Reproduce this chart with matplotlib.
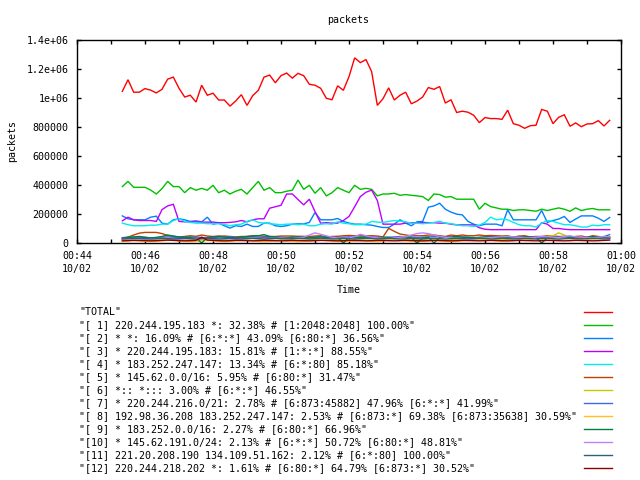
import datetime as dt
import matplotlib
matplotlib.use("Agg")
import matplotlib.pyplot as plt
import matplotlib.dates as mdates
from matplotlib.lines import Line2D
from matplotlib.ticker import FixedLocator, FixedFormatter

# ---------------- data (values in thousands of packets) ----------------
start_time = dt.datetime(2010, 10, 2, 0, 45, 20)
step_seconds = 10

total = [1046, 1126, 1040, 1040, 1065, 1054, 1035, 1060, 1130, 1144,
         1067, 1007, 1019, 972, 1088, 1019, 1033, 986, 986, 944,
         979, 1023, 949, 1016, 1053, 1144, 1158, 1105, 1154, 1172,
         1137, 1170, 1154, 1095, 1088, 1067, 998, 988, 1084, 1053,
         1147, 1277, 1244, 1265, 1181, 949, 995, 1070, 986, 1019,
         1040, 960, 979, 1007, 1072, 1060, 1079, 965, 988, 900,
         909, 902, 881, 830, 865, 858, 858, 853, 916, 823,
         812, 791, 809, 812, 921, 909, 823, 867, 884, 805,
         828, 802, 821, 823, 844, 807, 846]

s1 = [389, 425, 384, 384, 384, 365, 338, 375, 425, 389,
      389, 347, 382, 364, 377, 364, 398, 347, 364, 338,
      357, 370, 338, 382, 425, 364, 382, 347, 347, 357,
      364, 434, 370, 398, 343, 382, 325, 347, 382, 364,
      347, 398, 370, 377, 370, 325, 338, 338, 343, 329,
      334, 329, 325, 320, 293, 338, 334, 316, 320, 302,
      302, 302, 302, 233, 274, 251, 242, 233, 233, 224,
      229, 229, 224, 219, 233, 224, 233, 242, 233, 219,
      242, 224, 233, 238, 229, 229, 229]

s2 = [187, 167, 160, 160, 160, 178, 185, 137, 130, 160,
      167, 160, 149, 153, 146, 178, 130, 137, 119, 103,
      119, 114, 130, 114, 114, 137, 137, 119, 114, 119,
      130, 132, 132, 142, 210, 160, 160, 160, 169, 149,
      137, 130, 130, 126, 123, 114, 107, 107, 130, 160,
      137, 119, 146, 149, 247, 256, 274, 233, 213, 199,
      194, 149, 130, 119, 130, 130, 130, 119, 229, 160,
      160, 160, 160, 160, 224, 142, 155, 165, 183, 142,
      165, 187, 187, 187, 171, 149, 176]

s3 = [153, 178, 160, 155, 155, 155, 149, 230, 256, 267,
      149, 146, 146, 146, 144, 144, 144, 140, 140, 142,
      146, 155, 146, 160, 167, 167, 240, 250, 260, 338,
      338, 300, 263, 302, 217, 137, 140, 137, 137, 155,
      183, 250, 320, 350, 365, 293, 130, 130, 130, 130,
      137, 140, 140, 142, 140, 140, 137, 137, 130, 125,
      125, 125, 125, 105, 95, 92, 92, 92, 92, 92,
      92, 92, 92, 92, 140, 130, 100, 100, 95, 92,
      92, 92, 92, 92, 92, 92, 92]

s4 = [137, 126, 119, 119, 119, 123, 123, 130, 130, 155,
      167, 149, 142, 137, 137, 133, 133, 133, 128, 119,
      126, 130, 149, 160, 142, 137, 133, 130, 126, 130,
      130, 126, 130, 119, 119, 130, 133, 130, 146, 137,
      133, 126, 126, 130, 149, 144, 142, 149, 155, 151,
      146, 137, 137, 133, 137, 142, 149, 137, 133, 126,
      119, 119, 114, 123, 142, 178, 160, 165, 160, 142,
      126, 119, 119, 110, 137, 155, 149, 137, 126, 126,
      119, 110, 110, 123, 119, 126, 126]

s5 = [37, 40, 55, 68, 73, 73, 73, 65, 52, 45,
      42, 45, 50, 46, 55, 48, 45, 48, 48, 45,
      42, 45, 45, 50, 50, 46, 45, 45, 48, 48,
      48, 46, 46, 45, 48, 50, 42, 45, 46, 50,
      52, 50, 50, 50, 50, 48, 42, 101, 80, 62,
      55, 50, 50, 50, 55, 55, 50, 45, 55, 50,
      55, 50, 50, 55, 50, 52, 50, 48, 50, 40,
      48, 50, 42, 45, 45, 50, 48, 45, 45, 40,
      45, 48, 40, 50, 45, 40, 42]

s6 = [22, 20, 18, 20, 22, 20, 18, 20, 22, 20,
      18, 20, 22, 25, 20, 18, 20, 22, 20, 18,
      20, 22, 20, 18, 20, 22, 20, 18, 20, 22,
      20, 18, 20, 22, 25, 20, 18, 20, 22, 20,
      18, 20, 22, 20, 18, 20, 22, 25, 28, 25,
      22, 20, 22, 25, 28, 25, 22, 20, 22, 25,
      28, 25, 22, 20, 25, 28, 25, 22, 25, 28,
      30, 28, 30, 35, 40, 45, 50, 70, 55, 40,
      35, 30, 32, 35, 38, 35, 32]

s7 = [35, 38, 40, 40, 38, 36, 38, 40, 42, 40,
      38, 40, 42, 40, 38, 36, 38, 40, 42, 44,
      40, 38, 40, 42, 40, 38, 40, 42, 40, 38,
      40, 42, 40, 38, 40, 42, 44, 40, 38, 40,
      42, 40, 38, 40, 42, 40, 38, 40, 42, 45,
      42, 40, 38, 40, 42, 44, 42, 40, 38, 40,
      42, 40, 38, 36, 38, 40, 42, 40, 38, 36,
      38, 40, 42, 40, 38, 36, 38, 40, 42, 40,
      38, 36, 38, 40, 42, 44, 58]

s8 = [12, 15, 18, 15, 12, 10, 12, 15, 18, 20,
      15, 12, 10, 12, 15, 18, 15, 12, 10, 12,
      15, 18, 20, 15, 12, 10, 12, 15, 18, 15,
      12, 10, 12, 15, 18, 20, 18, 15, 12, 10,
      12, 15, 18, 15, 12, 10, 15, 20, 25, 20,
      15, 12, 10, 12, 15, 18, 15, 12, 10, 12,
      15, 18, 20, 22, 20, 18, 15, 12, 15, 18,
      20, 22, 25, 28, 25, 22, 20, 25, 30, 28,
      25, 22, 20, 25, 28, 30, 35]

s9 = [30, 40, 42, 45, 40, 35, 38, 45, 55, 48,
      42, 40, 38, 35, 0, 38, 42, 45, 40, 38,
      35, 40, 45, 48, 50, 58, 45, 40, 38, 35,
      40, 42, 38, 35, 40, 42, 38, 35, 40, 0,
      38, 35, 40, 42, 38, 35, 40, 38, 35, 40,
      42, 38, 0, 35, 40, 0, 38, 40, 42, 45,
      40, 38, 35, 40, 42, 45, 40, 38, 35, 40,
      42, 45, 40, 38, 0, 35, 40, 42, 45, 40,
      38, 35, 40, 45, 42, 40, 38]

s10 = [25, 28, 30, 28, 25, 28, 30, 32, 30, 28,
       25, 28, 30, 32, 30, 28, 25, 28, 30, 28,
       25, 28, 30, 32, 30, 28, 30, 32, 35, 32,
       30, 35, 40, 55, 70, 60, 50, 40, 35, 32,
       35, 45, 60, 50, 40, 35, 32, 30, 35, 40,
       45, 55, 65, 70, 65, 55, 45, 40, 35, 32,
       30, 28, 30, 32, 35, 38, 40, 42, 45, 42,
       40, 38, 35, 40, 45, 42, 40, 38, 45, 50,
       42, 40, 38, 35, 40, 45, 42]

s11 = [28, 30, 31, 32, 30, 28, 29, 32, 31, 28,
       30, 33, 30, 27, 30, 32, 31, 28, 29, 32,
       30, 28, 31, 33, 30, 27, 30, 32, 30, 29,
       30, 32, 31, 28, 30, 33, 30, 28, 29, 32,
       30, 27, 30, 32, 31, 28, 30, 33, 30, 28,
       29, 32, 30, 28, 31, 33, 30, 27, 30, 32,
       30, 29, 30, 32, 31, 28, 30, 33, 30, 28,
       29, 32, 30, 28, 31, 33, 30, 27, 30, 32,
       30, 29, 30, 32, 31, 28, 30]

s12 = [15, 16, 18, 17, 16, 15, 16, 18, 20, 18,
       16, 15, 16, 18, 40, 20, 18, 16, 15, 16,
       18, 17, 16, 15, 16, 18, 17, 16, 15, 16,
       18, 17, 16, 15, 16, 18, 17, 16, 15, 16,
       18, 17, 16, 15, 16, 18, 17, 16, 15, 16,
       18, 17, 16, 15, 16, 18, 17, 16, 15, 16,
       18, 17, 16, 15, 16, 18, 17, 16, 15, 16,
       18, 17, 16, 15, 16, 18, 17, 16, 15, 16,
       18, 17, 16, 15, 16, 18, 20]

series = [total, s1, s2, s3, s4, s5, s6, s7, s8, s9, s10, s11, s12]

labels = [
    '"TOTAL"',
    '"[ 1] 220.244.195.183 *: 32.38% # [1:2048:2048] 100.00%"',
    '"[ 2] * *: 16.09% # [6:*:*] 43.09% [6:80:*] 36.56%"',
    '"[ 3] * 220.244.195.183: 15.81% # [1:*:*] 88.55%"',
    '"[ 4] * 183.252.247.147: 13.34% # [6:*:80] 85.18%"',
    '"[ 5] * 145.62.0.0/16: 5.95% # [6:80:*] 31.47%"',
    '"[ 6] *:: *::: 3.00% # [6:*:*] 46.55%"',
    '"[ 7] * 220.244.216.0/21: 2.78% # [6:873:45882] 47.96% [6:*:*] 41.99%"',
    '"[ 8] 192.98.36.208 183.252.247.147: 2.53% # [6:873:*] 69.38% [6:873:35638] 30.59%"',
    '"[ 9] * 183.252.0.0/16: 2.27% # [6:80:*] 66.96%"',
    '"[10] * 145.62.191.0/24: 2.13% # [6:*:*] 50.72% [6:80:*] 48.81%"',
    '"[11] 221.20.208.190 134.109.51.162: 2.12% # [6:*:80] 100.00%"',
    '"[12] 220.244.218.202 *: 1.61% # [6:80:*] 64.79% [6:873:*] 30.52%"',
]

colors = ["#FF0000", "#00C000", "#0080FF", "#C000FF", "#00EEEE", "#C04000",
          "#C8C800", "#4169E1", "#FFC020", "#008040", "#C080FF", "#306080",
          "#8B0000"]

y_ticks = [0, 200000, 400000, 600000, 800000, 1000000, 1200000, 1400000]
y_tick_labels = ["0", "200000", "400000", "600000", "800000",
                 "1e+06", "1.2e+06", "1.4e+06"]

x_start = dt.datetime(2010, 10, 2, 0, 44)
x_end = dt.datetime(2010, 10, 2, 1, 0)

title = "packets"
ylabel = "packets"
xlabel = "Time"

# ---------------- drawing ----------------
FONT = "DejaVu Sans Mono"
FS = 7.2
plt.rcParams["font.family"] = FONT
plt.rcParams["font.size"] = FS

W, H = 640, 480
fig = plt.figure(figsize=(W / 100, H / 100), dpi=100)
L, R, T, B = 77, 621, 40, 243
ax = fig.add_axes([L / W, 1 - B / H, (R - L) / W, (B - T) / H])

n = len(total)
times = [start_time + dt.timedelta(seconds=step_seconds * i) for i in range(n)]

for vals, c in zip(series, colors):
    ax.plot(times, [v * 1000 for v in vals], color=c, lw=1.0,
            solid_joinstyle="miter")

ax.set_xlim(x_start, x_end)
ax.set_ylim(0, 1400000)

ax.yaxis.set_major_locator(FixedLocator(y_ticks))
ax.yaxis.set_major_formatter(FixedFormatter(y_tick_labels))

ax.xaxis.set_major_locator(mdates.MinuteLocator(byminute=range(0, 60, 2)))
ax.xaxis.set_minor_locator(mdates.MinuteLocator(byminute=range(1, 60, 2)))
ax.xaxis.set_major_formatter(mdates.DateFormatter("%H:%M\n%m/%d"))

ax.tick_params(which="both", direction="in", top=True, right=True,
               length=3, width=1, colors="black", labelsize=FS)
ax.tick_params(axis="x", which="major", pad=6)
ax.tick_params(axis="y", which="major", pad=6)
for lbl in ax.get_xticklabels():
    lbl.set_linespacing(1.3)
for sp in ax.spines.values():
    sp.set_linewidth(1.0)
    sp.set_color("black")

fig.text(348 / W, 1 - 20 / H, title, ha="center", va="center", fontsize=FS)
fig.text(12 / W, 1 - 141 / H, ylabel, ha="center", va="center",
         rotation=90, fontsize=FS)
fig.text(349 / W, 1 - 290 / H, xlabel, ha="center", va="center", fontsize=FS)

# key below the plot: text left-aligned, sample line at the right
row0, row_step = 312, 13
for i, (lab, line) in enumerate(zip(labels, ax.get_lines())):
    y = 1 - (row0 + row_step * i) / H
    fig.text(79 / W, y, lab, ha="left", va="center", fontsize=FS)
    fig.add_artist(Line2D([584 / W, 612 / W], [y, y],
                          color=line.get_color(), lw=1.0,
                          transform=fig.transFigure))

fig.savefig("out.png", dpi=100)
